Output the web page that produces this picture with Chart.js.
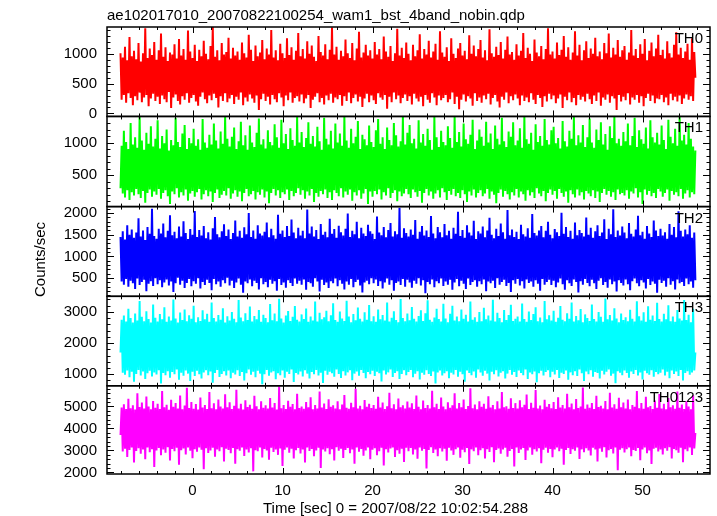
<!DOCTYPE html>
<html>
<head>
<meta charset="utf-8">
<script src="https://cdn.jsdelivr.net/npm/chart.js@4/dist/chart.umd.min.js"></script>
<style>
html, body { margin: 0; padding: 0; background: #fff; }
#wrap { position: relative; width: 717px; height: 516px; }
</style>
</head>
<body>
<div id="wrap"><canvas id="lc" width="717" height="516"></canvas></div>
<script>
const TITLE = "ae102017010_20070822100254_wam1_bst_4band_nobin.qdp";
const X_LABEL = "Time [sec] 0 = 2007/08/22 10:02:54.288";
const Y_LABEL = "Counts/sec";
const PANEL_NAMES = ["TH0", "TH1", "TH2", "TH3", "TH0123"];
const PANEL_COLORS = ["#ff0000", "#00ff00", "#0000ff", "#00ffff", "#ff00ff"];

// time bins (sec from 0 = 2007/08/22 10:02:54.288)
const START_TIME = -8.0;
const BIN_SEC = 0.125;
const X_MIN = -9.5, X_MAX = 57.5;
const X_TICKS = [0, 10, 20, 30, 40, 50];

const Y_MIN = [-50, 20, 80, 630, 1930];
const Y_MAX = [1450, 1400, 2150, 3500, 5940];
const Y_TICKS = [
	[0, 500, 1000],
	[500, 1000],
	[500, 1000, 1500, 2000],
	[1000, 2000, 3000],
	[2000, 3000, 4000, 5000]
];
const Y_MAJOR = [500, 500, 500, 1000, 1000];
const Y_MINOR = [100, 100, 100, 200, 200];

const th0 = [
	1010, 230, 940, 310, 1120, 180, 890, 340, 1280, 260, 960, 140, 1050, 290, 910, 220, 1180, 350, 870, 190, 1010, 270, 1430, 310, 930, 120, 1090, 250, 980, 330, 1200, 210,
	900, 280, 1060, 160, 1340, 300, 950, 240, 1110, 190, 880, 360, 1020, 90, 990, 270, 1160, 320, 920, 210, 1250, 150, 970, 290, 1080, 230, 900, 340, 1390, 180, 1040, 260,
	930, 310, 1150, 200, 880, 130, 1070, 280, 960, 350, 1220, 240, 1000, 170, 910, 300, 1130, 220, 1450, 330, 950, 260, 1060, 100, 890, 290, 1180, 210, 990, 340, 1030, 190,
	1270, 250, 920, 310, 1100, 160, 970, 280, 1040, 230, 900, 350, 1190, 140, 1010, 270, 940, 200, 1320, 320, 1070, 250, 880, 180, 1140, 300, 960, 60, 1020, 240, 1230, 330,
	910, 210, 1090, 280, 990, 150, 1400, 310, 940, 240, 1060, 190, 890, 340, 1170, 270, 1010, 120, 930, 300, 1260, 220, 980, 350, 1110, 180, 900, 260, 1050, 290, 1350, 200,
	960, 320, 1080, 170, 920, 250, 1210, 310, 1000, 90, 1140, 230, 950, 280, 880, 340, 1300, 190, 1030, 260, 970, 150, 1160, 300, 910, 220, 1070, 330, 1440, 180, 990, 270,
	1120, 240, 900, 310, 1050, 130, 960, 290, 1240, 210, 1010, 350, 930, 170, 1180, 260, 890, 320, 1090, 200, 1370, 280, 940, 110, 1020, 250, 1150, 330, 970, 190, 1060, 300,
	920, 220, 1200, 160, 990, 340, 1080, 270, 910, 230, 1290, 310, 1040, 80, 950, 280, 1130, 190, 880, 350, 1010, 240, 1420, 300, 970, 170, 1100, 260, 930, 320, 1190, 210,
	1000, 290, 890, 150, 1150, 330, 960, 250, 1060, 200, 1330, 280, 920, 120, 1080, 310, 990, 230, 1220, 180, 940, 340, 1040, 270, 1170, 140, 900, 300, 1380, 220, 1020, 260,
	950, 310, 1110, 190, 880, 240, 1260, 350, 1000, 160, 930, 280, 1090, 70, 1180, 230, 970, 320, 1050, 200, 910, 290, 1310, 250, 1000, 130, 1140, 340, 960, 210, 1080, 270,
	1230, 180, 940, 300, 1060, 240, 890, 330, 1410, 150, 1010, 260, 950, 310, 1120, 200, 980, 100, 1200, 280, 920, 230, 1070, 350, 1290, 170, 990, 290, 1030, 220, 900, 320,
	1160, 250, 970, 140, 1050, 300, 1350, 210, 930, 270, 1100, 190, 1000, 340, 880, 230, 1240, 160, 1020, 310, 960, 260, 1130, 110, 910, 290, 1080, 200, 1430, 330, 990, 240,
	1040, 300, 920, 170, 1190, 250, 980, 320, 1070, 90, 1300, 280, 950, 220, 1110, 350, 900, 190, 1020, 260, 1380, 140, 970, 310, 1150, 230, 890, 280, 1060, 200, 1210, 330,
	930, 240, 1090, 160, 1000, 300, 1270, 210, 960, 350, 1040, 130, 910, 270, 1180, 230, 1010, 320, 1340, 180, 940, 290, 1100, 250, 990, 60, 1230, 310, 950, 200, 1060, 280,
	1130, 220, 900, 340, 1020, 150, 1400, 270, 970, 230, 1080, 310, 930, 180, 1160, 290, 1000, 120, 1250, 260, 890, 330, 1050, 210, 1190, 300, 960, 170, 1090, 250, 1320, 240,
	980, 310, 1070, 190, 920, 270, 1210, 140, 1010, 330, 940, 220, 1150, 280, 1360, 200, 990, 300, 1100, 160, 930, 250, 1040, 320, 1170, 230, 900, 290, 1260, 210, 1030, 600
];
const th1 = [
	300, 950, 220, 1180, 160, 1010, 270, 900, 120, 1300, 240, 970, 190, 1080, 290, 920, 210, 1400, 150, 1030, 260, 890, 80, 1150, 230, 980, 280, 1250, 170, 940, 250, 1060,
	200, 1340, 290, 910, 140, 1100, 230, 990, 270, 1200, 180, 880, 60, 1040, 250, 960, 210, 1380, 300, 1010, 160, 930, 240, 1140, 190, 1270, 280, 900, 110, 1070, 220, 990,
	260, 1210, 170, 950, 240, 1050, 290, 890, 130, 1360, 210, 1000, 270, 920, 180, 1120, 250, 970, 90, 1290, 230, 1030, 280, 910, 150, 1170, 200, 980, 260, 1400, 190, 1060,
	300, 940, 140, 1090, 220, 1230, 270, 900, 170, 1020, 250, 1320, 100, 960, 230, 1110, 290, 890, 180, 1260, 210, 1000, 260, 930, 130, 1150, 240, 1370, 200, 970, 280, 1050,
	160, 910, 250, 1190, 70, 1010, 230, 960, 290, 1280, 190, 1080, 270, 920, 150, 1350, 240, 990, 210, 1130, 280, 900, 120, 1220, 260, 1040, 180, 950, 230, 1390, 300, 1000,
	200, 1160, 270, 930, 140, 1070, 250, 1310, 190, 980, 290, 1100, 90, 940, 230, 1240, 170, 1020, 260, 890, 210, 1380, 280, 1060, 150, 970, 240, 1180, 120, 910, 270, 1290,
	230, 1000, 180, 1140, 300, 950, 160, 1400, 250, 1030, 200, 920, 280, 1210, 110, 990, 240, 1090, 190, 1330, 270, 900, 140, 1120, 220, 1050, 290, 960, 60, 1260, 250, 1010,
	170, 930, 260, 1190, 210, 1360, 280, 980, 130, 1080, 240, 900, 190, 1230, 300, 1040, 150, 960, 230, 1300, 270, 1110, 100, 940, 250, 1020, 180, 1390, 220, 970, 290, 1150,
	210, 1270, 150, 990, 280, 1060, 240, 910, 170, 1340, 260, 1000, 80, 1130, 230, 950, 290, 1210, 190, 1040, 250, 890, 140, 1390, 220, 1080, 270, 930, 160, 1180, 300, 1010,
	240, 960, 120, 1250, 260, 1070, 200, 920, 290, 1400, 180, 1010, 230, 1160, 150, 940, 270, 1290, 210, 1050, 90, 980, 250, 1120, 190, 1350, 280, 900, 160, 1030, 230, 1200,
	270, 1090, 180, 950, 220, 1320, 290, 1000, 140, 1140, 250, 900, 200, 1260, 70, 1060, 230, 970, 280, 1380, 170, 1020, 260, 930, 210, 1170, 130, 1090, 240, 1310, 190, 960,
	290, 1030, 160, 1220, 250, 920, 210, 1400, 110, 1050, 270, 980, 190, 1150, 240, 890, 150, 1280, 300, 1010, 220, 1100, 180, 950, 260, 1360, 100, 1040, 230, 970, 280, 1190,
	200, 1240, 260, 990, 140, 1070, 290, 910, 230, 1330, 170, 1020, 250, 940, 80, 1180, 270, 1060, 210, 1390, 160, 960, 280, 1110, 190, 1000, 240, 1270, 130, 930, 260, 1080,
	220, 1370, 180, 1000, 270, 920, 150, 1200, 250, 1040, 90, 1310, 230, 970, 290, 1130, 200, 890, 260, 1250, 170, 1070, 240, 1400, 120, 990, 280, 1060, 210, 950, 230, 1160,
	190, 1020, 270, 1290, 140, 960, 250, 1100, 220, 1380, 300, 930, 160, 1190, 240, 1050, 60, 980, 280, 1230, 200, 910, 260, 1340, 180, 1080, 230, 1000, 150, 1150, 290, 970,
	250, 1260, 170, 1040, 230, 900, 280, 1350, 110, 1090, 260, 990, 200, 1210, 240, 950, 180, 1400, 290, 1030, 140, 1120, 220, 970, 270, 1300, 160, 1060, 240, 940, 210, 880
];
const th2 = [
	1450, 420, 1580, 350, 1390, 480, 1720, 300, 1500, 440, 1620, 380, 1430, 250, 1550, 490, 1880, 340, 1460, 410, 1600, 460, 1380, 200, 1680, 370, 1520, 430, 2100, 320, 1470, 500,
	1410, 360, 1640, 450, 1530, 290, 1760, 400, 1440, 470, 1590, 330, 1950, 420, 1490, 180, 1570, 380, 1420, 510, 1690, 350, 1460, 440, 1810, 270, 1540, 390, 1400, 480, 1630, 310,
	1500, 430, 2050, 370, 1450, 500, 1610, 260, 1480, 410, 1700, 340, 1420, 460, 1560, 390, 1390, 220, 1650, 480, 1910, 360, 1510, 420, 1440, 300, 1580, 450, 1740, 380, 1470, 510,
	1620, 330, 1400, 440, 1540, 270, 1830, 400, 1460, 490, 1590, 350, 1430, 160, 1670, 420, 1510, 380, 2000, 470, 1450, 310, 1600, 440, 1410, 390, 1720, 240, 1530, 500, 1480, 360,
	1570, 410, 1780, 290, 1440, 460, 1640, 370, 1490, 430, 1410, 210, 1960, 480, 1520, 340, 1600, 400, 1450, 280, 1700, 450, 1470, 390, 1850, 320, 1550, 490, 1420, 370, 1660, 440,
	1480, 350, 1590, 470, 1420, 230, 2080, 410, 1530, 380, 1690, 300, 1460, 500, 1610, 420, 1400, 190, 1750, 460, 1500, 340, 1570, 400, 1440, 270, 1870, 430, 1520, 380, 1630, 490,
	1430, 310, 1710, 450, 1560, 370, 1480, 240, 1640, 420, 1990, 350, 1450, 480, 1590, 290, 1510, 410, 1800, 460, 1420, 330, 1660, 170, 1530, 400, 1470, 440, 1730, 360, 1580, 500,
	1520, 380, 1400, 470, 1920, 320, 1550, 430, 1490, 260, 1680, 400, 1440, 490, 1610, 350, 1770, 450, 1460, 210, 1580, 390, 1510, 420, 2120, 340, 1430, 480, 1650, 300, 1540, 460,
	1460, 400, 1620, 280, 1500, 440, 1840, 370, 1410, 500, 1570, 330, 1700, 450, 1480, 150, 1600, 410, 1450, 360, 1930, 470, 1530, 290, 1420, 430, 1680, 380, 1560, 490, 1440, 320,
	1750, 420, 1490, 350, 1590, 460, 1410, 230, 1660, 400, 1520, 480, 2030, 310, 1470, 440, 1610, 370, 1430, 250, 1720, 490, 1550, 340, 1480, 410, 1820, 450, 1400, 300, 1580, 430,
	1530, 360, 1690, 470, 1440, 200, 1600, 420, 1890, 380, 1500, 440, 1420, 270, 1640, 500, 1470, 350, 1760, 410, 1560, 460, 1410, 320, 2070, 390, 1490, 180, 1620, 450, 1450, 370,
	1570, 480, 1400, 330, 1730, 430, 1510, 260, 1460, 470, 1650, 390, 1430, 420, 1980, 300, 1540, 450, 1480, 370, 1600, 210, 1700, 480, 1440, 350, 1590, 410, 1800, 460, 1500, 340,
	1420, 440, 1630, 290, 1560, 400, 1470, 490, 2010, 360, 1520, 230, 1680, 450, 1450, 380, 1590, 320, 1410, 470, 1780, 410, 1490, 170, 1610, 430, 1540, 350, 1460, 480, 1900, 390,
	1500, 310, 1660, 460, 1430, 380, 1580, 250, 1720, 440, 1470, 500, 1550, 340, 1860, 410, 1400, 280, 1640, 470, 1510, 360, 2090, 420, 1450, 190, 1600, 450, 1480, 390, 1690, 330,
	1550, 470, 1420, 360, 1770, 220, 1520, 430, 1460, 490, 1620, 380, 1940, 310, 1490, 450, 1570, 400, 1410, 260, 1700, 480, 1530, 340, 1450, 420, 1830, 370, 1600, 160, 1470, 460,
	1640, 390, 1480, 440, 1560, 300, 1410, 500, 1750, 350, 1500, 430, 1680, 240, 1440, 470, 2040, 380, 1590, 410, 1460, 320, 1620, 490, 1510, 360, 1720, 420, 1430, 280, 1550, 450
];
const th3 = [
	1700, 2750, 1050, 2880, 980, 2690, 1120, 3100, 900, 2800, 1080, 2660, 760, 2950, 1010, 2720, 1140, 3350, 960, 2840, 1090, 2700, 850, 3020, 1030, 2770, 1110, 2660, 930, 3240, 1060, 2810,
	990, 2690, 1130, 2930, 700, 2760, 1040, 3150, 970, 2680, 1100, 2850, 890, 2720, 1070, 3400, 1000, 2790, 1150, 2660, 820, 2980, 1050, 2740, 950, 3080, 1120, 2700, 1020, 2890, 780, 2780,
	1080, 3200, 940, 2670, 1110, 2830, 1000, 2710, 860, 3050, 1060, 2760, 1130, 2940, 970, 2680, 1090, 3300, 730, 2800, 1040, 2690, 1140, 2900, 910, 2750, 1010, 3120, 1100, 2660, 960, 2860,
	1120, 2720, 870, 3000, 1050, 2780, 990, 2670, 1130, 3380, 940, 2820, 1070, 2700, 800, 2960, 1030, 2740, 1150, 3170, 980, 2690, 1080, 2870, 900, 2760, 1110, 3060, 1020, 2680, 680, 2910,
	1000, 2800, 1140, 2670, 950, 3250, 1060, 2730, 1100, 2950, 840, 2700, 1030, 3420, 970, 2790, 1120, 2660, 890, 2880, 1080, 3030, 1010, 2710, 1150, 2840, 750, 3190, 1040, 2750, 990, 2690,
	1090, 2920, 930, 2770, 1130, 3110, 1020, 2680, 860, 2850, 1070, 2720, 1000, 3330, 1140, 2690, 960, 2970, 1050, 2760, 720, 2830, 1110, 3040, 980, 2700, 1080, 2890, 1030, 3280, 920, 2740,
	1150, 2680, 1010, 3010, 880, 2790, 1100, 2710, 960, 3360, 1060, 2850, 1130, 2670, 810, 2930, 1020, 2730, 1090, 3140, 950, 2780, 1140, 2690, 1040, 2990, 870, 2750, 1070, 3220, 1000, 2700,
	1110, 2860, 940, 2680, 1080, 3080, 1030, 2760, 770, 2900, 1120, 2720, 990, 3300, 1060, 2690, 1150, 2810, 910, 3020, 1040, 2740, 1100, 2670, 850, 3410, 1010, 2800, 1130, 2700, 970, 2950,
	1070, 2730, 1140, 3160, 900, 2780, 1020, 2690, 1100, 2870, 830, 3050, 1050, 2710, 980, 2960, 1130, 3370, 1010, 2750, 940, 2680, 1090, 2820, 700, 3100, 1060, 2770, 1120, 2690, 960, 3260,
	1030, 2790, 1100, 2670, 870, 2940, 1050, 3200, 990, 2720, 1140, 2850, 920, 2700, 1080, 3080, 1000, 2780, 760, 2910, 1120, 2690, 1040, 3330, 970, 2750, 1090, 2830, 890, 2680, 1150, 3000,
	1060, 2700, 950, 3130, 1110, 2760, 1020, 2880, 800, 2720, 1080, 3390, 1000, 2690, 1130, 2970, 930, 2800, 1050, 2670, 1100, 3060, 860, 2740, 1020, 2900, 1140, 3230, 980, 2710, 1070, 2780,
	910, 2850, 1120, 2690, 1040, 3270, 970, 2770, 1150, 2680, 850, 3010, 1060, 2740, 1000, 2930, 1090, 3150, 740, 2700, 1030, 2820, 1110, 2670, 960, 3350, 1070, 2760, 1130, 2890, 900, 2720,
	1080, 3040, 990, 2680, 1140, 2810, 880, 3190, 1050, 2750, 1010, 2700, 1120, 2960, 820, 2780, 1060, 3300, 970, 2690, 1100, 2870, 940, 2730, 1150, 3090, 1030, 2670, 780, 2920, 1090, 2800,
	1000, 2710, 1130, 3240, 920, 2770, 1070, 2690, 1040, 3000, 860, 2840, 1110, 2680, 990, 3430, 1080, 2760, 1150, 2900, 950, 2720, 1020, 3120, 710, 2790, 1100, 2670, 1050, 2950, 970, 2740,
	1120, 2830, 1040, 2700, 890, 3070, 1090, 2780, 1010, 2690, 1140, 3340, 960, 2860, 1060, 2720, 830, 2990, 1110, 2680, 1030, 3180, 980, 2750, 1130, 2880, 920, 2710, 1070, 3290, 1000, 2770,
	1050, 2690, 1150, 2940, 960, 2760, 1080, 3210, 870, 2700, 1120, 2850, 1010, 2680, 1090, 3060, 940, 2790, 1140, 2720, 800, 3380, 1040, 2740, 1100, 2910, 980, 2670, 1060, 3100, 1120, 1700
];
const th0123 = [
	3700, 4950, 2950, 5100, 3080, 4880, 2700, 5350, 3020, 4920, 3130, 5050, 2450, 4860, 2980, 5600, 3100, 4970, 2850, 5180, 3050, 4900, 2600, 5450, 3140, 5000, 2920, 4870, 3060, 5250, 2250, 4940,
	3000, 5120, 3110, 4880, 2780, 5700, 3040, 4960, 2900, 5080, 3150, 4850, 2550, 5300, 3070, 4990, 2960, 5160, 3120, 4900, 2350, 5500, 3010, 4870, 3090, 5040, 2820, 5850, 3130, 4930, 2990, 5200,
	2650, 4890, 3060, 5110, 2940, 4860, 3140, 5400, 3030, 4950, 2150, 5060, 3100, 4880, 2880, 5650, 3000, 4920, 3120, 5140, 2720, 4870, 3050, 5320, 2970, 5000, 3150, 4900, 2500, 5550, 3080, 4960,
	3020, 5190, 2870, 4880, 3110, 5030, 2400, 5760, 3060, 4910, 2990, 5120, 3140, 4860, 2750, 5280, 3040, 4970, 2910, 5080, 3100, 4890, 2050, 5480, 3010, 5010, 2960, 4870, 3130, 5230, 2680, 4940,
	3070, 5050, 3000, 4900, 2580, 5380, 3120, 4950, 2930, 5160, 3050, 4860, 2800, 5900, 3090, 4920, 2300, 5070, 3030, 4880, 3140, 5260, 2900, 4990, 3080, 5110, 2640, 4870, 3010, 5580, 3110, 4930,
	2860, 5000, 3050, 4890, 2450, 5200, 3130, 4960, 2980, 5420, 3070, 4870, 2740, 5060, 3000, 4910, 3120, 5680, 2200, 4950, 3040, 5130, 2950, 4880, 3100, 5330, 2830, 4980, 3060, 5050, 2550, 4900,
	3150, 5240, 2990, 4870, 3080, 5090, 2660, 5520, 3020, 4940, 3110, 4890, 2870, 5170, 3050, 4960, 2400, 5800, 3130, 4910, 2940, 5030, 3070, 4870, 2760, 5290, 3000, 4990, 3140, 5120, 2600, 4930,
	3030, 5060, 3100, 4890, 2780, 5440, 2960, 4950, 3120, 5180, 2320, 4880, 3060, 5010, 2910, 5620, 3090, 4920, 3140, 5100, 2700, 4870, 3010, 5360, 2850, 4960, 3080, 5050, 2480, 4900, 3120, 5220,
	2970, 4950, 3110, 5140, 2820, 4880, 3040, 5500, 2620, 4990, 3130, 4870, 2990, 5270, 3070, 4930, 2180, 5060, 3020, 4900, 3150, 5710, 2880, 4960, 3050, 5120, 2740, 4880, 3100, 5400, 2950, 5000,
	3080, 4870, 2530, 5190, 3120, 4940, 3000, 5050, 2800, 5600, 3060, 4900, 3140, 5150, 2670, 4960, 3030, 5310, 2920, 4880, 3110, 5020, 2380, 5830, 3050, 4920, 2970, 5090, 3130, 4870, 2780, 5240,
	3010, 4980, 3100, 5120, 2640, 4890, 3060, 5460, 2930, 4950, 3150, 5060, 2460, 4870, 3020, 5230, 3090, 4910, 2850, 5650, 3040, 4960, 3120, 5010, 2720, 4890, 2980, 5370, 3070, 4930, 2270, 5150,
	3130, 4900, 2890, 5280, 3050, 4960, 3110, 5080, 2570, 5540, 3000, 4880, 3140, 5170, 2810, 4940, 3060, 5750, 2950, 4900, 3100, 5040, 2420, 4870, 3030, 5300, 3120, 4990, 2900, 5110, 3070, 4920,
	2690, 5200, 3040, 4880, 3130, 5420, 2960, 4950, 3080, 5060, 2350, 4900, 3020, 5580, 3110, 4960, 2840, 5130, 3060, 4870, 2990, 5340, 3140, 4930, 2610, 5000, 3050, 5860, 2920, 4890, 3100, 5090,
	3000, 4940, 2770, 5160, 3120, 4880, 3040, 5490, 2500, 4970, 3090, 5030, 2940, 4900, 3150, 5250, 2680, 4870, 3010, 5620, 3070, 4950, 2860, 5100, 3130, 4890, 2100, 5390, 3030, 4960, 3100, 5180,
	2910, 4900, 3060, 5310, 3140, 4870, 2740, 5060, 3020, 4980, 2980, 5700, 3110, 4920, 2560, 5150, 3050, 4890, 3130, 5440, 2870, 4960, 3000, 5020, 2390, 4880, 3080, 5270, 3120, 4940, 2950, 5560,
	3040, 4910, 2820, 5120, 3100, 4870, 2990, 5380, 3150, 4960, 2630, 5050, 3070, 4890, 3010, 5680, 2900, 4940, 3120, 5090, 2470, 4880, 3060, 5230, 2960, 5000, 3140, 4870, 2790, 5510, 3090, 3800
];
const SERIES = [th0, th1, th2, th3, th0123];

// panel heights (px) used as stack weights
const PANEL_WEIGHTS = [89.5, 90.2, 89.8, 89.5, 88.3];

const FONT_FAMILY = "'Liberation Sans', Arial, Helvetica, sans-serif";
const FONT_SIZE = 15;

// draws the qdp style frames, inward ticks and the text
const qdpFrame = {
	id: "qdpFrame",
	afterDatasetsDraw(chart) {
		const ctx = chart.ctx;
		const area = chart.chartArea;
		const xs = chart.scales.x;
		ctx.save();
		ctx.strokeStyle = "#000";
		ctx.fillStyle = "#000";
		for (let i = 0; i < 5; i++) {
			const ys = chart.scales["y" + i];
			const top = ys.top, bot = ys.bottom;
			ctx.lineWidth = 1;
			ctx.beginPath();
			for (let t = -8; t <= 56; t += 2) {
				const px = Math.round(xs.getPixelForValue(t)) + 0.5;
				const len = t % 10 === 0 ? 6 : 3;
				ctx.moveTo(px, top); ctx.lineTo(px, top + len);
				ctx.moveTo(px, bot); ctx.lineTo(px, bot - len);
			}
			const step = Y_MINOR[i];
			for (let v = Math.ceil(Y_MIN[i] / step) * step; v <= Y_MAX[i]; v += step) {
				const py = Math.round(ys.getPixelForValue(v)) + 0.5;
				const len = v % Y_MAJOR[i] === 0 ? 7 : 3.5;
				ctx.moveTo(area.left, py); ctx.lineTo(area.left + len, py);
				ctx.moveTo(area.right, py); ctx.lineTo(area.right - len, py);
			}
			ctx.stroke();
			ctx.lineWidth = 1.5;
			ctx.strokeRect(area.left, top, area.right - area.left, bot - top);

			ctx.font = FONT_SIZE + "px " + FONT_FAMILY;
			ctx.textAlign = "right";
			ctx.textBaseline = "alphabetic";
			ctx.fillText(PANEL_NAMES[i], area.right - 7, top + 16);
		}

		ctx.font = FONT_SIZE + "px " + FONT_FAMILY;
		ctx.textAlign = "left";
		ctx.textBaseline = "alphabetic";
		ctx.fillText(TITLE, area.left, 20);

		ctx.textAlign = "center";
		ctx.fillText(X_LABEL, (area.left + area.right) / 2 - 13, 513);

		ctx.translate(41, (area.top + area.bottom) / 2 + 9);
		ctx.rotate(-Math.PI / 2);
		ctx.textBaseline = "middle";
		ctx.fillText(Y_LABEL, 0, 0);
		ctx.restore();
	}
};

function buildChart() {
	Chart.defaults.font.family = FONT_FAMILY;
	Chart.defaults.font.size = FONT_SIZE;
	Chart.defaults.color = "#000";

	const scales = {
		x: {
			type: "linear",
			position: "bottom",
			min: X_MIN,
			max: X_MAX,
			grid: { display: false, drawTicks: false },
			border: { display: false },
			ticks: { padding: 8, maxRotation: 0, autoSkip: false, callback: v => String(v) },
			afterBuildTicks: s => { s.ticks = X_TICKS.map(v => ({ value: v })); },
			afterFit: s => { s.height = 42; }
		}
	};
	// left boxes are stacked last-first, so add the bottom panel first
	for (let i = 4; i >= 0; i--) {
		scales["y" + i] = {
			type: "linear",
			position: "left",
			stack: "panels",
			stackWeight: PANEL_WEIGHTS[i],
			min: Y_MIN[i],
			max: Y_MAX[i],
			grid: { display: false, drawTicks: false },
			border: { display: false },
			ticks: { padding: 10, autoSkip: false, callback: v => String(v) },
			afterBuildTicks: s => { s.ticks = Y_TICKS[i].map(v => ({ value: v })); },
			afterFit: s => { s.width = 107; }
		};
	}

	const datasets = SERIES.map((vals, i) => ({
		label: PANEL_NAMES[i],
		data: vals.map((v, k) => ({ x: START_TIME + k * BIN_SEC, y: v })),
		yAxisID: "y" + i,
		borderColor: PANEL_COLORS[i],
		borderWidth: 2,
		pointRadius: 0,
		tension: 0,
		fill: false
	}));

	new Chart(document.getElementById("lc"), {
		type: "line",
		data: { datasets: datasets },
		options: {
			responsive: false,
			animation: false,
			events: [],
			layout: { padding: { top: 27, right: 7, bottom: 0, left: 0 } },
			plugins: { legend: { display: false }, tooltip: { enabled: false } },
			scales: scales
		},
		plugins: [qdpFrame]
	});
}

buildChart();
</script>
</body>
</html>
